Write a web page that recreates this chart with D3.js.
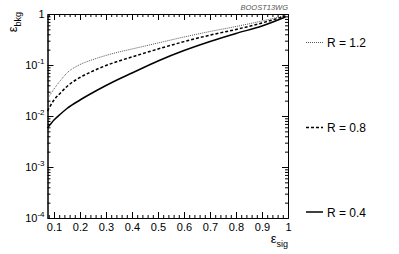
<!DOCTYPE html>
<html>
<head>
<meta charset="utf-8">
<script src="https://cdn.jsdelivr.net/npm/d3@7"></script>
<style>
  body { margin: 0; background: #fff; }
  svg { display: block; font-family: "Liberation Sans", Arial, sans-serif; }
</style>
</head>
<body>
<svg id="chart" width="399" height="254"></svg>
<script>
// signal efficiency (x) and background efficiency (y) for each jet radius
const sigEff = [0.075, 0.1, 0.125, 0.15, 0.2, 0.25, 0.3, 0.35, 0.4, 0.5, 0.6, 0.7, 0.8, 0.9, 0.99];
const bkgR12 = [0.0216, 0.0338, 0.0497, 0.0697, 0.102, 0.128, 0.154, 0.180, 0.206, 0.270, 0.354, 0.454, 0.569, 0.729, 0.935];
const bkgR08 = [0.0125, 0.0206, 0.0283, 0.0379, 0.0569, 0.0763, 0.0978, 0.120, 0.144, 0.206, 0.287, 0.385, 0.497, 0.667, 0.914];
const bkgR04 = [0.00582, 0.00835, 0.01094, 0.01403, 0.0206, 0.0289, 0.0396, 0.0531, 0.0697, 0.120, 0.192, 0.289, 0.415, 0.582, 0.873];
const seriesNames = ['R = 1.2', 'R = 0.8', 'R = 0.4'];
const xMajor = [0.1, 0.2, 0.3, 0.4, 0.5, 0.6, 0.7, 0.8, 0.9, 1];
const yMajor = [1e-4, 1e-3, 1e-2, 1e-1, 1];
const yLabels = [['10', '-4'], ['10', '-3'], ['10', '-2'], ['10', '-1'], ['1', '']];

const mLeft = 47.5, mRight = 288, mTop = 14, mBottom = 218;
const svg = d3.select('#chart');

const x = d3.scaleLinear().domain([0.075, 1]).range([mLeft, mRight]);
const y = d3.scaleLog().domain([1e-4, 1]).range([mBottom, mTop]);

const xMinor = d3.range(8, 101, 2).map(d => d / 100).filter(d => d >= 0.075 && !xMajor.some(m => Math.abs(m - d) < 1e-9));
const yMinor = [];
for (let e = -4; e < 0; e++) {
  for (let k = 2; k <= 9; k++) yMinor.push(k * Math.pow(10, e));
}

function styleAxis(g) {
  g.selectAll('path.domain').attr('stroke', '#000').attr('stroke-width', 1);
  g.selectAll('.tick line').attr('stroke', '#000').attr('stroke-width', 1);
}

// frame with inward ticks on all four sides
svg.append('g').attr('transform', `translate(0,${mBottom})`)
  .call(d3.axisBottom(x).tickValues(xMajor).tickSize(-6).tickSizeOuter(0).tickPadding(5).tickFormat(d3.format('')))
  .call(styleAxis)
  .call(g => g.attr('font-family', null).attr('font-size', 11).selectAll('text').attr('fill', '#000'));
svg.append('g').attr('transform', `translate(0,${mBottom})`)
  .call(d3.axisBottom(x).tickValues(xMinor).tickSize(-3).tickSizeOuter(0).tickFormat(''))
  .call(styleAxis);
svg.append('g').attr('transform', `translate(0,${mTop})`)
  .call(d3.axisTop(x).tickValues(xMajor).tickSize(-6).tickSizeOuter(0).tickFormat(''))
  .call(styleAxis);
svg.append('g').attr('transform', `translate(0,${mTop})`)
  .call(d3.axisTop(x).tickValues(xMinor).tickSize(-3).tickSizeOuter(0).tickFormat(''))
  .call(styleAxis);

svg.append('g').attr('transform', `translate(${mLeft},0)`)
  .call(d3.axisLeft(y).tickValues(yMajor).tickSize(-6).tickSizeOuter(0).tickFormat(''))
  .call(styleAxis);
svg.append('g').attr('transform', `translate(${mLeft},0)`)
  .call(d3.axisLeft(y).tickValues(yMinor).tickSize(-3).tickSizeOuter(0).tickFormat(''))
  .call(styleAxis);
svg.append('g').attr('transform', `translate(${mRight},0)`)
  .call(d3.axisRight(y).tickValues(yMajor).tickSize(-6).tickSizeOuter(0).tickFormat(''))
  .call(styleAxis);
svg.append('g').attr('transform', `translate(${mRight},0)`)
  .call(d3.axisRight(y).tickValues(yMinor).tickSize(-3).tickSizeOuter(0).tickFormat(''))
  .call(styleAxis);

// y tick labels with superscript exponents
const yl = svg.append('g');
yMajor.forEach((v, i) => {
  const t = yl.append('text')
    .attr('x', mLeft - 3)
    .attr('y', y(v) + 4)
    .attr('text-anchor', 'end')
    .attr('font-size', 11);
  t.append('tspan').text(yLabels[i][0]);
  if (yLabels[i][1]) {
    t.append('tspan').attr('dy', -5).attr('font-size', 8).text(yLabels[i][1]);
  }
});

// axis titles
const xt = svg.append('text').attr('x', mRight).attr('y', 243).attr('text-anchor', 'end').attr('font-size', 13);
xt.append('tspan').text('\u03B5');
xt.append('tspan').attr('dy', 4).attr('font-size', 9).text('sig');

const yt = svg.append('text').attr('transform', 'translate(17,12) rotate(-90)').attr('text-anchor', 'end').attr('font-size', 13);
yt.append('tspan').text('\u03B5');
yt.append('tspan').attr('dy', 4).attr('font-size', 9).text('bkg');

svg.append('text').attr('x', mRight).attr('y', 10).attr('text-anchor', 'end')
  .attr('font-size', 7.5).attr('font-style', 'italic').attr('fill', '#555').text('BOOST13WG');

// curves
const line = d3.line()
  .x((d, i) => x(sigEff[i]))
  .y(d => y(d))
  .curve(d3.curveMonotoneX);

const styles = [
  { data: bkgR12, stroke: '#555', width: 1, dash: '1,1' },
  { data: bkgR08, stroke: '#000', width: 1.5, dash: '3,2' },
  { data: bkgR04, stroke: '#000', width: 1.5, dash: null }
];

const plot = svg.append('g');
styles.forEach(s => {
  plot.append('path')
    .attr('d', line(s.data))
    .attr('fill', 'none')
    .attr('stroke', s.stroke)
    .attr('stroke-width', s.width)
    .attr('stroke-dasharray', s.dash);
});

// legend
const legendY = [42.5, 127.5, 212];
const legend = svg.append('g');
styles.forEach((s, i) => {
  legend.append('line')
    .attr('x1', 306).attr('x2', 323)
    .attr('y1', legendY[i]).attr('y2', legendY[i])
    .attr('stroke', s.stroke)
    .attr('stroke-width', s.width)
    .attr('stroke-dasharray', s.dash);
  legend.append('text')
    .attr('x', 327).attr('y', legendY[i] + 4.5)
    .attr('font-size', 12)
    .text(seriesNames[i]);
});
</script>
</body>
</html>
